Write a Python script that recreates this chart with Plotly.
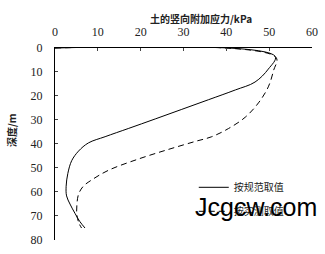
import plotly.graph_objects as go

# Data
spec_stress = [0, 51.4, 49.8, 46.7, 42.1, 35.8, 29.6, 23.4, 17.1, 11.7, 7.8, 5.5, 3.9, 3.0, 2.6, 2.7, 3.5, 4.7, 5.8, 7.0]
spec_depth = [0, 3.5, 8.8, 14.2, 17.5, 21.6, 25.6, 29.6, 33.6, 37.0, 39.6, 43.0, 47.0, 52.3, 57.7, 61.7, 65.1, 69.1, 72.4, 75.1]

meas_stress = [0, 51.6, 51.0, 49.8, 47.5, 44.4, 40.5, 36.6, 32.7, 26.5, 19.5, 12.5, 8.6, 6.6, 5.5, 5.1, 5.1, 5.6, 6.2]
meas_depth = [0, 3.9, 9.5, 16.2, 22.9, 28.9, 33.6, 37.0, 39.0, 42.3, 46.3, 51.0, 55.0, 57.7, 61.0, 65.7, 69.7, 73.1, 75.1]

x_ticks = [0, 10, 20, 30, 40, 50, 60]
y_ticks = [0, 10, 20, 30, 40, 50, 60, 70, 80]

fig = go.Figure()
fig.add_trace(go.Scatter(x=spec_stress, y=spec_depth, mode="lines", name="按规范取值", legendgroup="a",
                         line=dict(color="black", width=1, shape="spline", smoothing=1.0)))
fig.add_trace(go.Scatter(x=meas_stress, y=meas_depth, mode="lines", name="按实测取值", legendgroup="b",
                         line=dict(color="black", width=1, dash="6px,4px", shape="spline", smoothing=1.0)))

serif = "Liberation Serif, Times New Roman, serif"
cjk = "Noto Sans CJK SC"
L, R, T, B = 55, 13, 48, 7
fig.update_layout(
    width=325, height=254,
    margin=dict(l=L, r=R, t=T, b=B),
    paper_bgcolor="white", plot_bgcolor="white",
    showlegend=True,
    legend=dict(x=0.54, y=0.35, xanchor="left", yanchor="top", bgcolor="rgba(0,0,0,0)",
                font=dict(family=cjk, size=10, color="#222"),
                itemwidth=30, tracegroupgap=5),
    xaxis=dict(side="top", range=[0, 60], tickvals=x_ticks, ticks="inside", ticklen=3,
               showline=True, linecolor="black", linewidth=1, showgrid=False, zeroline=False,
               ticklabelstandoff=6, ticklabeloverflow="allow",
               tickfont=dict(family=serif, size=12, color="#222")),
    yaxis=dict(range=[80.1, 0], tickvals=y_ticks, ticks="inside", ticklen=3,
               showline=True, linecolor="black", linewidth=1, showgrid=False, zeroline=False,
               ticklabelstandoff=9, ticklabeloverflow="allow",
               tickfont=dict(family=serif, size=12, color="#222")),
)
pw, ph = 325 - L - R, 254 - T - B


def px(xp, yp):
    return (xp - L) / pw, 1 - (yp - T) / ph


ann = [
    ("<b>土的竖向附加应力/kPa</b>", 201, 17, 0, cjk, 10),
    ("<b>深度/m</b>", 11, 133, -90, cjk, 10),
    ("Jcgcw.com", 256, 213, 0, "Liberation Sans, Arial", 25),
]
for text, xp, yp, ang, fam, sz in ann:
    ax, ay = px(xp, yp)
    fig.add_annotation(text=text, x=ax, y=ay, xref="paper", yref="paper", showarrow=False,
                       xanchor="center", yanchor="middle", textangle=ang,
                       font=dict(family=fam, size=sz, color="black" if sz > 20 else "#222"))

fig.write_html("out.html")
